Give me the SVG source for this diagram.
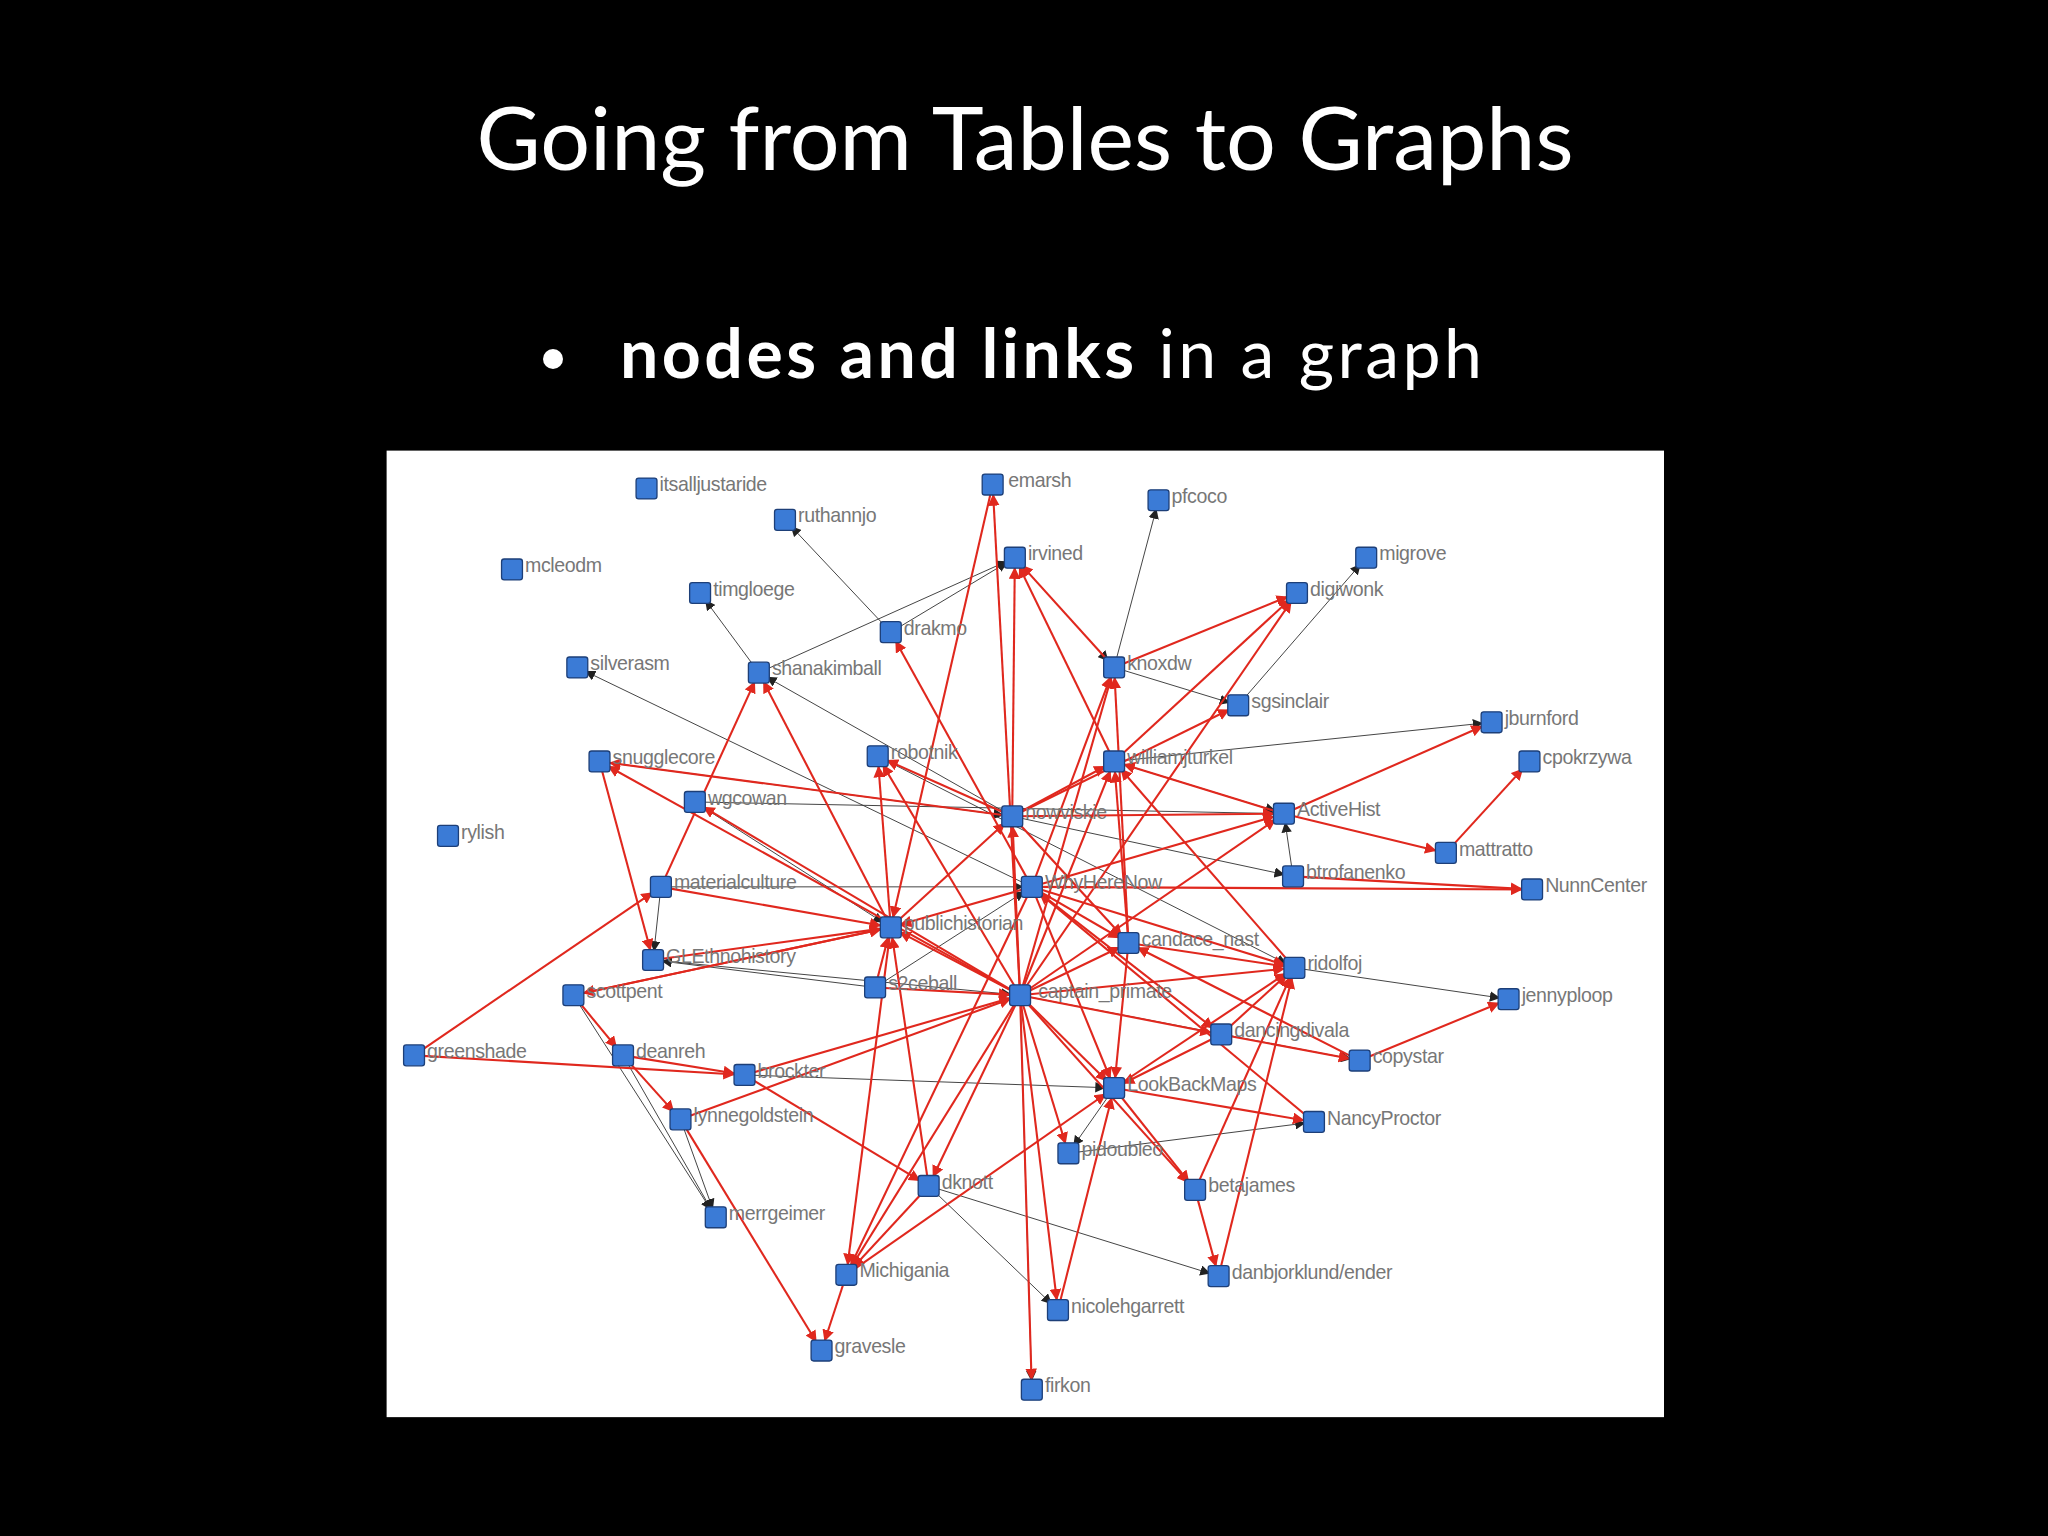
<svg xmlns="http://www.w3.org/2000/svg" width="2048" height="1536" viewBox="0 0 2048 1536">
<style>
.t{font-family:"Gill Sans","Lato","Liberation Sans",sans-serif;fill:#fff}
.r line{stroke:#e0281e;stroke-width:1.6;marker-end:url(#ar)}
.k line{stroke:#333;stroke-width:0.7;marker-end:url(#ak)}
.n rect{fill:#3b7bd6;stroke:#1d3f78;stroke-width:1}
.n text{font-family:"Liberation Sans",Arial,sans-serif;font-size:15px;fill:#777;letter-spacing:-0.3px}
</style>
<defs>
<marker id="ar" viewBox="0 0 10 10" refX="18" refY="5" markerWidth="9" markerHeight="9" markerUnits="userSpaceOnUse" orient="auto"><path d="M0,0L10,5L0,10z" fill="#e0281e"/></marker>
<marker id="ak" viewBox="0 0 10 10" refX="18" refY="5" markerWidth="8" markerHeight="8" markerUnits="userSpaceOnUse" orient="auto"><path d="M0,0L10,5L0,10z" fill="#222"/></marker>
</defs>
<rect width="2048" height="1536" fill="#000"/>
<text class="t" x="1025" y="170" font-size="88" text-anchor="middle">Going from Tables to Graphs</text>
<circle cx="553" cy="359" r="10" fill="#fff"/>
<text class="t" x="620" y="378" font-size="68" textLength="862" lengthAdjust="spacing"><tspan font-weight="bold">nodes and links</tspan> in a graph</text>
<g transform="scale(1.30612)">
<rect x="296" y="345" width="978" height="740" fill="#fff"/>
<g id="connectors">
<g class="k">
<line x1="581" y1="515" x2="536" y2="454"/><line x1="682" y1="484" x2="601" y2="398"/><line x1="581" y1="515" x2="777" y2="427"/><line x1="682" y1="484" x2="777" y2="427"/><line x1="853" y1="511" x2="887" y2="383"/><line x1="948" y1="540" x2="1046" y2="427"/><line x1="853" y1="511" x2="948" y2="540"/><line x1="790" y1="679" x2="442" y2="511"/><line x1="775" y1="625" x2="581" y2="515"/><line x1="990" y1="671" x2="983" y2="623"/><line x1="853" y1="583" x2="1142" y2="553"/><line x1="532" y1="614" x2="983" y2="623"/><line x1="506" y1="679" x2="790" y2="679"/><line x1="500" y1="735" x2="781" y2="762"/><line x1="477" y1="808" x2="548" y2="932"/><line x1="439" y1="762" x2="548" y2="932"/><line x1="570" y1="823" x2="853" y2="833"/><line x1="818" y1="883" x2="1006" y2="859"/><line x1="711" y1="908" x2="933" y2="977"/><line x1="670" y1="756" x2="500" y2="735"/><line x1="506" y1="679" x2="500" y2="735"/><line x1="781" y1="762" x2="1041" y2="812"/><line x1="853" y1="583" x2="983" y2="623"/><line x1="775" y1="625" x2="990" y2="671"/><line x1="521" y1="857" x2="548" y2="932"/><line x1="670" y1="756" x2="790" y2="679"/><line x1="853" y1="833" x2="818" y2="883"/><line x1="711" y1="908" x2="810" y2="1003"/><line x1="672" y1="579" x2="991" y2="741"/><line x1="991" y1="741" x2="1155" y2="765"/><line x1="532" y1="614" x2="682" y2="710"/><line x1="777" y1="427" x2="853" y2="511"/><line x1="781" y1="762" x2="790" y2="1064"/><line x1="459" y1="583" x2="775" y2="625"/>
</g>
<g class="r">
<line x1="781" y1="762" x2="760" y2="371"/><line x1="775" y1="625" x2="777" y2="427"/><line x1="853" y1="511" x2="777" y2="427"/><line x1="853" y1="583" x2="777" y2="427"/><line x1="781" y1="762" x2="993" y2="454"/><line x1="853" y1="583" x2="993" y2="454"/><line x1="853" y1="511" x2="993" y2="454"/><line x1="775" y1="625" x2="948" y2="540"/><line x1="864" y1="722" x2="853" y2="511"/><line x1="790" y1="679" x2="853" y2="511"/><line x1="781" y1="762" x2="853" y2="511"/><line x1="682" y1="710" x2="581" y2="515"/><line x1="506" y1="679" x2="581" y2="515"/><line x1="790" y1="679" x2="682" y2="484"/><line x1="775" y1="625" x2="672" y2="579"/><line x1="781" y1="762" x2="672" y2="579"/><line x1="682" y1="710" x2="672" y2="579"/><line x1="775" y1="625" x2="853" y2="583"/><line x1="983" y1="623" x2="853" y2="583"/><line x1="781" y1="762" x2="853" y2="583"/><line x1="864" y1="722" x2="853" y2="583"/><line x1="991" y1="741" x2="853" y2="583"/><line x1="983" y1="623" x2="1142" y2="553"/><line x1="1107" y1="653" x2="1171" y2="583"/><line x1="983" y1="623" x2="1107" y2="653"/><line x1="790" y1="679" x2="1173" y2="681"/><line x1="990" y1="671" x2="1173" y2="681"/><line x1="1041" y1="812" x2="1155" y2="765"/><line x1="781" y1="762" x2="775" y2="625"/><line x1="682" y1="710" x2="775" y2="625"/><line x1="775" y1="625" x2="983" y2="623"/><line x1="790" y1="679" x2="983" y2="623"/><line x1="781" y1="762" x2="983" y2="623"/><line x1="790" y1="679" x2="682" y2="710"/><line x1="781" y1="762" x2="682" y2="710"/><line x1="670" y1="756" x2="682" y2="710"/><line x1="506" y1="679" x2="682" y2="710"/><line x1="500" y1="735" x2="682" y2="710"/><line x1="439" y1="762" x2="682" y2="710"/><line x1="790" y1="679" x2="864" y2="722"/><line x1="781" y1="762" x2="864" y2="722"/><line x1="775" y1="625" x2="864" y2="722"/><line x1="864" y1="722" x2="991" y2="741"/><line x1="781" y1="762" x2="991" y2="741"/><line x1="790" y1="679" x2="991" y2="741"/><line x1="935" y1="792" x2="991" y2="741"/><line x1="853" y1="833" x2="991" y2="741"/><line x1="781" y1="762" x2="935" y2="792"/><line x1="790" y1="679" x2="935" y2="792"/><line x1="935" y1="792" x2="1041" y2="812"/><line x1="781" y1="762" x2="853" y2="833"/><line x1="790" y1="679" x2="853" y2="833"/><line x1="864" y1="722" x2="853" y2="833"/><line x1="853" y1="833" x2="1006" y2="859"/><line x1="781" y1="762" x2="818" y2="883"/><line x1="853" y1="833" x2="915" y2="911"/><line x1="781" y1="762" x2="915" y2="911"/><line x1="915" y1="911" x2="933" y2="977"/><line x1="933" y1="977" x2="991" y2="741"/><line x1="781" y1="762" x2="711" y2="908"/><line x1="711" y1="908" x2="648" y2="976"/><line x1="781" y1="762" x2="648" y2="976"/><line x1="682" y1="710" x2="648" y2="976"/><line x1="790" y1="679" x2="648" y2="976"/><line x1="570" y1="823" x2="711" y2="908"/><line x1="477" y1="808" x2="570" y2="823"/><line x1="317" y1="808" x2="570" y2="823"/><line x1="317" y1="808" x2="506" y2="679"/><line x1="459" y1="583" x2="500" y2="735"/><line x1="439" y1="762" x2="477" y2="808"/><line x1="477" y1="808" x2="521" y2="857"/><line x1="521" y1="857" x2="629" y2="1034"/><line x1="648" y1="976" x2="629" y2="1034"/><line x1="781" y1="762" x2="790" y2="1064"/><line x1="781" y1="762" x2="810" y2="1003"/><line x1="648" y1="976" x2="853" y2="833"/><line x1="670" y1="756" x2="781" y2="762"/><line x1="781" y1="762" x2="459" y2="583"/><line x1="775" y1="625" x2="459" y2="583"/><line x1="781" y1="762" x2="532" y2="614"/><line x1="682" y1="710" x2="439" y2="762"/><line x1="570" y1="823" x2="781" y2="762"/><line x1="521" y1="857" x2="781" y2="762"/><line x1="711" y1="908" x2="682" y2="710"/><line x1="915" y1="911" x2="991" y2="741"/><line x1="810" y1="1003" x2="853" y2="833"/><line x1="935" y1="792" x2="853" y2="833"/><line x1="1006" y1="859" x2="790" y2="679"/><line x1="1041" y1="812" x2="864" y2="722"/><line x1="760" y1="371" x2="682" y2="710"/>
</g>
</g>
<g class="n">
<g id="itsalljustaride"><rect x="487" y="366" width="16" height="16" rx="2"/><text x="505" y="376">itsalljustaride</text></g>
<g id="ruthannjo"><rect x="593" y="390" width="16" height="16" rx="2"/><text x="611" y="400">ruthannjo</text></g>
<g id="emarsh"><rect x="752" y="363" width="16" height="16" rx="2"/><text x="772" y="373">emarsh</text></g>
<g id="pfcoco"><rect x="879" y="375" width="16" height="16" rx="2"/><text x="897" y="385">pfcoco</text></g>
<g id="mcleodm"><rect x="384" y="428" width="16" height="16" rx="2"/><text x="402" y="438">mcleodm</text></g>
<g id="timgloege"><rect x="528" y="446" width="16" height="16" rx="2"/><text x="546" y="456">timgloege</text></g>
<g id="irvined"><rect x="769" y="419" width="16" height="16" rx="2"/><text x="787" y="429">irvined</text></g>
<g id="migrove"><rect x="1038" y="419" width="16" height="16" rx="2"/><text x="1056" y="429">migrove</text></g>
<g id="digiwonk"><rect x="985" y="446" width="16" height="16" rx="2"/><text x="1003" y="456">digiwonk</text></g>
<g id="drakmo"><rect x="674" y="476" width="16" height="16" rx="2"/><text x="692" y="486">drakmo</text></g>
<g id="silverasm"><rect x="434" y="503" width="16" height="16" rx="2"/><text x="452" y="513">silverasm</text></g>
<g id="shanakimball"><rect x="573" y="507" width="16" height="16" rx="2"/><text x="591" y="517">shanakimball</text></g>
<g id="knoxdw"><rect x="845" y="503" width="16" height="16" rx="2"/><text x="863" y="513">knoxdw</text></g>
<g id="sgsinclair"><rect x="940" y="532" width="16" height="16" rx="2"/><text x="958" y="542">sgsinclair</text></g>
<g id="jburnford"><rect x="1134" y="545" width="16" height="16" rx="2"/><text x="1152" y="555">jburnford</text></g>
<g id="snugglecore"><rect x="451" y="575" width="16" height="16" rx="2"/><text x="469" y="585">snugglecore</text></g>
<g id="robotnik"><rect x="664" y="571" width="16" height="16" rx="2"/><text x="682" y="581">robotnik</text></g>
<g id="williamjturkel"><rect x="845" y="575" width="16" height="16" rx="2"/><text x="863" y="585">williamjturkel</text></g>
<g id="cpokrzywa"><rect x="1163" y="575" width="16" height="16" rx="2"/><text x="1181" y="585">cpokrzywa</text></g>
<g id="wgcowan"><rect x="524" y="606" width="16" height="16" rx="2"/><text x="542" y="616">wgcowan</text></g>
<g id="rylish"><rect x="335" y="632" width="16" height="16" rx="2"/><text x="353" y="642">rylish</text></g>
<g id="nowviskie"><rect x="767" y="617" width="16" height="16" rx="2"/><text x="785" y="627">nowviskie</text></g>
<g id="ActiveHist"><rect x="975" y="615" width="16" height="16" rx="2"/><text x="993" y="625">ActiveHist</text></g>
<g id="mattratto"><rect x="1099" y="645" width="16" height="16" rx="2"/><text x="1117" y="655">mattratto</text></g>
<g id="materialculture"><rect x="498" y="671" width="16" height="16" rx="2"/><text x="516" y="681">materialculture</text></g>
<g id="WhyHereNow"><rect x="782" y="671" width="16" height="16" rx="2"/><text x="800" y="681">WhyHereNow</text></g>
<g id="btrofanenko"><rect x="982" y="663" width="16" height="16" rx="2"/><text x="1000" y="673">btrofanenko</text></g>
<g id="NunnCenter"><rect x="1165" y="673" width="16" height="16" rx="2"/><text x="1183" y="683">NunnCenter</text></g>
<g id="publichistorian"><rect x="674" y="702" width="16" height="16" rx="2"/><text x="692" y="712">publichistorian</text></g>
<g id="candace_nast"><rect x="856" y="714" width="16" height="16" rx="2"/><text x="874" y="724">candace_nast</text></g>
<g id="GLEthnohistory"><rect x="492" y="727" width="16" height="16" rx="2"/><text x="510" y="737">GLEthnohistory</text></g>
<g id="ridolfoj"><rect x="983" y="733" width="16" height="16" rx="2"/><text x="1001" y="743">ridolfoj</text></g>
<g id="s2ceball"><rect x="662" y="748" width="16" height="16" rx="2"/><text x="680" y="758">s2ceball</text></g>
<g id="captain_primate"><rect x="773" y="754" width="16" height="16" rx="2"/><text x="795" y="764">captain_primate</text></g>
<g id="jennyploop"><rect x="1147" y="757" width="16" height="16" rx="2"/><text x="1165" y="767">jennyploop</text></g>
<g id="scottpent"><rect x="431" y="754" width="16" height="16" rx="2"/><text x="449" y="764">scottpent</text></g>
<g id="dancingdivala"><rect x="927" y="784" width="16" height="16" rx="2"/><text x="945" y="794">dancingdivala</text></g>
<g id="greenshade"><rect x="309" y="800" width="16" height="16" rx="2"/><text x="327" y="810">greenshade</text></g>
<g id="deanreh"><rect x="469" y="800" width="16" height="16" rx="2"/><text x="487" y="810">deanreh</text></g>
<g id="copystar"><rect x="1033" y="804" width="16" height="16" rx="2"/><text x="1051" y="814">copystar</text></g>
<g id="brockter"><rect x="562" y="815" width="16" height="16" rx="2"/><text x="580" y="825">brockter</text></g>
<g id="LookBackMaps"><rect x="845" y="825" width="16" height="16" rx="2"/><text x="863" y="835">LookBackMaps</text></g>
<g id="lynnegoldstein"><rect x="513" y="849" width="16" height="16" rx="2"/><text x="531" y="859">lynnegoldstein</text></g>
<g id="NancyProctor"><rect x="998" y="851" width="16" height="16" rx="2"/><text x="1016" y="861">NancyProctor</text></g>
<g id="pidoubleo"><rect x="810" y="875" width="16" height="16" rx="2"/><text x="828" y="885">pidoubleo</text></g>
<g id="dknott"><rect x="703" y="900" width="16" height="16" rx="2"/><text x="721" y="910">dknott</text></g>
<g id="betajames"><rect x="907" y="903" width="16" height="16" rx="2"/><text x="925" y="913">betajames</text></g>
<g id="merrgeimer"><rect x="540" y="924" width="16" height="16" rx="2"/><text x="558" y="934">merrgeimer</text></g>
<g id="Michigania"><rect x="640" y="968" width="16" height="16" rx="2"/><text x="658" y="978">Michigania</text></g>
<g id="danbjorklund"><rect x="925" y="969" width="16" height="16" rx="2"/><text x="943" y="979">danbjorklund/ender</text></g>
<g id="nicolehgarrett"><rect x="802" y="995" width="16" height="16" rx="2"/><text x="820" y="1005">nicolehgarrett</text></g>
<g id="gravesle"><rect x="621" y="1026" width="16" height="16" rx="2"/><text x="639" y="1036">gravesle</text></g>
<g id="firkon"><rect x="782" y="1056" width="16" height="16" rx="2"/><text x="800" y="1066">firkon</text></g>
</g>
</g>
</svg>
